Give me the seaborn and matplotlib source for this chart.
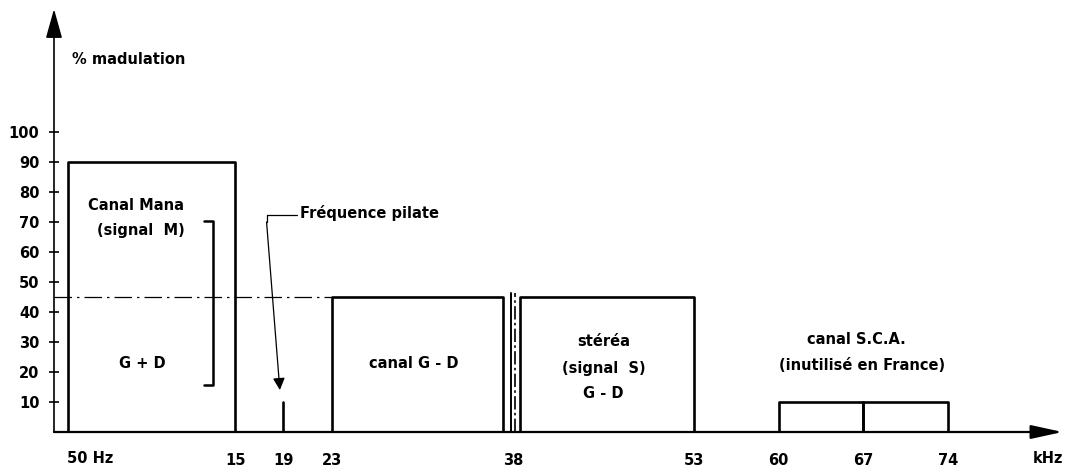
import matplotlib
matplotlib.use("Agg")
import matplotlib.pyplot as plt
import seaborn as sns
import pandas as pd

# spectre du signal multiplex stéréo (kHz / % modulation)
band_names = ["mono", "gd_bas", "gd_haut", "sca_bas", "sca_haut"]
band_start = [1.2, 23, 38.6, 60, 67]
band_end = [15, 37.2, 53, 67, 74]
band_level = [90, 45, 45, 10, 10]

pilot_freq = 19
pilot_level = 10
subcarrier = 38
subcarrier_top = 46.5
ref_level = 45

freq_ticks = [15, 19, 23, 38, 53, 60, 67, 74]
level_ticks = [10, 20, 30, 40, 50, 60, 70, 80, 90, 100]

# contours des bandes
rows = []
for name, s, e, lv in zip(band_names, band_start, band_end, band_level):
    for f, y in [(s, 0), (s, lv), (e, lv), (e, 0)]:
        rows.append({"band": name, "f": f, "level": y})
rows.append({"band": "pilote", "f": pilot_freq, "level": 0})
rows.append({"band": "pilote", "f": pilot_freq, "level": pilot_level})
outline = pd.DataFrame(rows)

sns.set_theme(style="white")
plt.rcParams["font.family"] = ["DejaVu Sans"]
plt.rcParams["font.weight"] = "bold"

fig = plt.figure(figsize=(10.66, 4.72), dpi=100)
ax = fig.add_axes([54 / 1066, 40 / 472, 1008.5 / 1066, 423 / 472])
ax.set_xlim(0, 83.5)
ax.set_ylim(0, 141)

sns.lineplot(data=outline, x="f", y="level", units="band", estimator=None,
             sort=False, color="black", lw=1.9, legend=False, ax=ax)

# niveau de référence et sous-porteuse supprimée
ax.plot([0, band_start[1]], [ref_level, ref_level], color="black", lw=0.9,
        ls=(0, (14, 4, 2, 4)))
ax.plot([subcarrier - 0.2] * 2, [0, subcarrier_top], color="black", lw=1.4)
ax.plot([subcarrier + 0.2] * 2, [0, subcarrier_top], color="black", lw=1.2,
        ls=(0, (8, 2, 1.5, 2)))

# axes avec flèches
for sp in ax.spines.values():
    sp.set_visible(False)
ax.annotate("", xy=(0, 141), xytext=(0, 0),
            arrowprops=dict(arrowstyle="-|>,head_length=1.5,head_width=0.42",
                            color="black", lw=1.2, mutation_scale=12,
                            shrinkA=0, shrinkB=0),
            annotation_clip=False)
ax.annotate("", xy=(83.5, 0), xytext=(0, 0),
            arrowprops=dict(arrowstyle="-|>,head_length=1.6,head_width=0.35",
                            color="black", lw=1.6, mutation_scale=12,
                            shrinkA=0, shrinkB=0),
            annotation_clip=False)

ax.set_yticks(level_ticks)
ax.set_yticklabels([str(v) for v in level_ticks], fontsize=10.5, fontweight="bold")
ax.set_xticks(freq_ticks)
ax.set_xticklabels([str(v) for v in freq_ticks], fontsize=10.5, fontweight="bold")
ax.tick_params(axis="y", direction="inout", length=7, width=1.2, pad=7,
               left=True, colors="black")
ax.tick_params(axis="x", length=0, pad=15, colors="black")
ax.set_xlabel("")
ax.set_ylabel("")
ax.grid(False)

txt = dict(fontsize=10.5, fontweight="bold", color="black")
xaxis_tr = ax.get_xaxis_transform()
ax.text(1.1, -0.045, "50 Hz", ha="left", va="top", transform=xaxis_tr, **txt)
ax.text(82.3, -0.045, "kHz", ha="center", va="top", transform=xaxis_tr, **txt)
ax.text(1.5, 124, "% madulation", ha="left", va="center", **txt)

ax.text(6.8, 75.5, "Canal Mana", ha="center", va="center", **txt)
ax.text(7.2, 67.3, "(signal  M)", ha="center", va="center", **txt)
ax.text(7.3, 23, "G + D", ha="center", va="center", **txt)
ax.plot([12.4, 13.2, 13.2, 12.4], [70.5, 70.5, 15.8, 15.8], color="black", lw=1.8)

ax.text(20.4, 73, "Fréquence pilate", ha="left", va="center", **txt)
ax.plot([20.1, 17.6, 17.6], [72.3, 72.3, 70], color="black", lw=0.9)
ax.annotate("", xy=(18.7, 14), xytext=(17.6, 70),
            arrowprops=dict(arrowstyle="-|>", color="black", lw=0.9,
                            mutation_scale=18, shrinkA=0, shrinkB=0))

ax.text(29.8, 23, "canal G - D", ha="center", va="center", **txt)
ax.text(45.5, 30, "stéréa", ha="center", va="center", **txt)
ax.text(45.5, 21.3, "(signal  S)", ha="center", va="center", **txt)
ax.text(45.5, 13, "G - D", ha="center", va="center", **txt)
ax.text(66.4, 30.7, "canal S.C.A.", ha="center", va="center", **txt)
ax.text(66.9, 22.3, "(inutilisé en France)", ha="center", va="center", **txt)

plt.savefig("out.png", dpi=100)
